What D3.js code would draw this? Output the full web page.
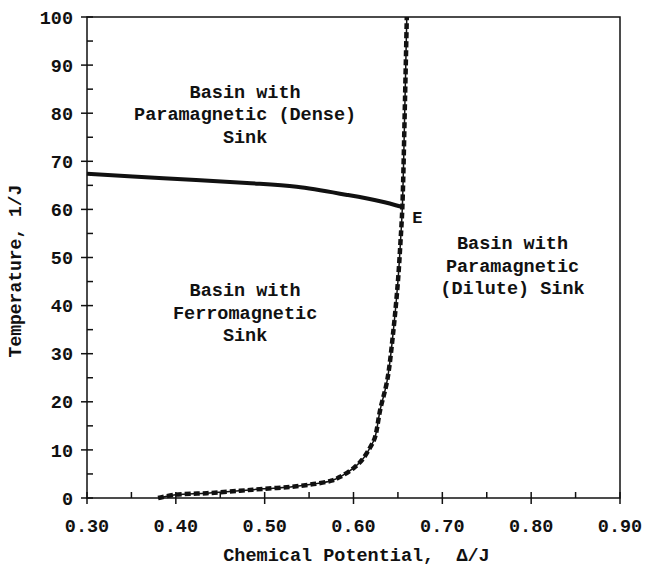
<!DOCTYPE html>
<html>
<head>
<meta charset="utf-8">
<script src="https://cdn.jsdelivr.net/npm/d3@7"></script>
<style>
  body { margin: 0; background: #fff; }
  svg text { font-family: "Courier New", "Liberation Mono", monospace; font-weight: bold; fill: #111; }
</style>
</head>
<body>
<div id="chart"></div>
<script>
// axis ticks
const xTicks = [0.3, 0.4, 0.5, 0.6, 0.7, 0.8, 0.9];
const yTicks = [0, 10, 20, 30, 40, 50, 60, 70, 80, 90, 100];

// coexistence line (solid), ends at point E
const solidDelta = [0.300, 0.386, 0.480, 0.536, 0.593, 0.630, 0.655];
const solidTemp = [67.4, 66.5, 65.5, 64.7, 63.0, 61.7, 60.5];

// basin boundary (dashed)
const dashDelta = [0.380, 0.400, 0.435, 0.472, 0.498, 0.529, 0.555, 0.575, 0.585, 0.600,
  0.610, 0.619, 0.624, 0.630, 0.638, 0.645, 0.650, 0.653, 0.655, 0.658, 0.660];
const dashTemp = [0, 0.7, 1.0, 1.5, 1.9, 2.3, 2.9, 3.6, 4.4, 6.2,
  8.0, 10.6, 12.5, 18.3, 24.5, 35, 45, 53.6, 60.5, 83, 100];

// region labels
const regionLines = [
  ["Basin with", "Paramagnetic (Dense)", "Sink"],
  ["Basin with", "Ferromagnetic", "Sink"],
  ["Basin with", "Paramagnetic", "(Dilute) Sink"]
];
const regionAt = [[0.478, 83.2], [0.478, 41.9], [0.779, 51.7]];

const width = 645, height = 570;
const margin = { left: 87, right: 25, top: 17, bottom: 72 };

const svg = d3.select("#chart").append("svg")
  .attr("width", width).attr("height", height);

const x = d3.scaleLinear().domain([0.3, 0.9]).range([margin.left, width - margin.right]);
const y = d3.scaleLinear().domain([0, 100]).range([height - margin.bottom, margin.top]);

const x0 = x.range()[0], x1 = x.range()[1];
const y0 = y.range()[0], y1 = y.range()[1];

// frame
svg.append("rect")
  .attr("x", x0).attr("y", y1)
  .attr("width", x1 - x0).attr("height", y0 - y1)
  .attr("fill", "none").attr("stroke", "#111").attr("stroke-width", 1.5);

// y ticks
const minorY = d3.range(5, 100, 10);
svg.selectAll(".ymaj").data(yTicks).join("line")
  .attr("x1", x0 - 6).attr("x2", x0 + 6)
  .attr("y1", d => y(d)).attr("y2", d => y(d))
  .attr("stroke", "#111").attr("stroke-width", 1.5);
svg.selectAll(".ymin").data(minorY).join("line")
  .attr("x1", x0).attr("x2", x0 + 6)
  .attr("y1", d => y(d)).attr("y2", d => y(d))
  .attr("stroke", "#111").attr("stroke-width", 1.5);
svg.selectAll(".ylab").data(yTicks).join("text")
  .attr("x", x0 - 14).attr("y", d => y(d)).attr("dy", "0.36em")
  .attr("text-anchor", "end").style("font-size", "18.5px")
  .text(d => d);

// x ticks
const minorX = d3.range(0.35, 0.9, 0.1);
svg.selectAll(".xmaj").data(xTicks).join("line")
  .attr("x1", d => x(d)).attr("x2", d => x(d))
  .attr("y1", y0 - 6).attr("y2", y0 + 6)
  .attr("stroke", "#111").attr("stroke-width", 1.5);
svg.selectAll(".xmin").data(minorX).join("line")
  .attr("x1", d => x(d)).attr("x2", d => x(d))
  .attr("y1", y0 - 6).attr("y2", y0)
  .attr("stroke", "#111").attr("stroke-width", 1.5);
svg.selectAll(".xlab").data(xTicks).join("text")
  .attr("x", d => x(d)).attr("y", y0 + 34)
  .attr("text-anchor", "middle").style("font-size", "18.5px")
  .text(d => d3.format(".2f")(d));

// axis titles
svg.append("text")
  .attr("x", (x0 + x1) / 2 + 3).attr("y", 561)
  .attr("text-anchor", "middle").style("font-size", "18.5px")
  .attr("xml:space", "preserve")
  .text("Chemical Potential,  \u0394/J");
svg.append("text")
  .attr("transform", "translate(21,271) rotate(-90)")
  .attr("text-anchor", "middle").style("font-size", "18px")
  .text("Temperature, 1/J");

// curves
const line = d3.line().x(d => x(d[0])).y(d => y(d[1])).curve(d3.curveCatmullRom);
const solidPts = solidDelta.map((d, i) => [d, solidTemp[i]]);
const dashPts = dashDelta.map((d, i) => [d, dashTemp[i]]);

svg.append("path").attr("d", line(solidPts))
  .attr("fill", "none").attr("stroke", "#111").attr("stroke-width", 4);
svg.append("path").attr("d", line(dashPts))
  .attr("fill", "none").attr("stroke", "#111").attr("stroke-width", 1.5);
svg.append("path").attr("d", line(dashPts))
  .attr("fill", "none").attr("stroke", "#111").attr("stroke-width", 4.5)
  .attr("stroke-dasharray", "6,3");

// point E
svg.append("text")
  .attr("x", x(solidDelta[solidDelta.length - 1]) + 10)
  .attr("y", y(solidTemp[solidTemp.length - 1]) + 16)
  .style("font-size", "17px").text("E");

// region labels
regionLines.forEach((lines, i) => {
  const t = svg.append("text")
    .attr("x", x(regionAt[i][0])).attr("y", y(regionAt[i][1]))
    .attr("text-anchor", "middle").style("font-size", "18.5px")
    .attr("xml:space", "preserve");
  lines.forEach((s, j) => {
    t.append("tspan").attr("x", x(regionAt[i][0])).attr("dy", j === 0 ? 0 : 22.5).text(s);
  });
});
</script>
</body>
</html>
